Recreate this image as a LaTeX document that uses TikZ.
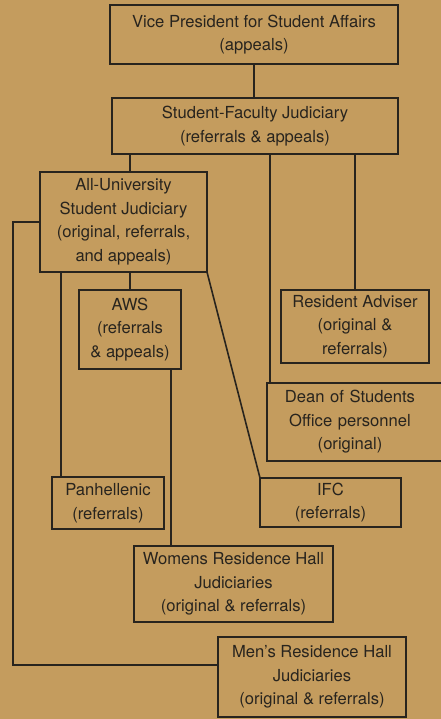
\documentclass[tikz,border=0pt]{standalone}
\usepackage{fontspec}
\setmainfont{TeX Gyre Heros}
\usetikzlibrary{positioning,calc}
\definecolor{paper}{RGB}{196,156,94}
\definecolor{ink}{RGB}{40,36,30}
\tikzstyle{block} = [draw=ink, rectangle, line width=1.6pt, inner sep=0pt, outer sep=0pt,
    align=center, text=ink, font=\fontsize{16.6}{23.5}\selectfont]
\tikzstyle{link} = [draw=ink, line width=1.6pt]

\begin{document}
\begin{tikzpicture}[x=1pt,y=-1pt]
    \fill [paper] (0,0) rectangle (441,719);
    \clip (0,0) rectangle (441,719);
    % We start by placing the blocks
    \node [block, minimum width=288pt, minimum height=59pt] (vp) at (254,34.5) {Vice President for Student Affairs\\(appeals)};
    \node [block, minimum width=286pt, minimum height=56pt] (sfj) at (255,126) {Student-Faculty Judiciary\\(referrals \& appeals)};
    \node [block, minimum width=167pt, minimum height=100pt] (ausj) at (123.5,222) {All-University\\Student Judiciary\\(original, referrals,\\and appeals)};
    \node [block, minimum width=102pt, minimum height=79pt] (aws) at (130,329.5) {AWS\\(referrals\\\& appeals)};
    \node [block, minimum width=148pt, minimum height=73pt] (ra) at (355,326.5) {Resident Adviser\\(original \&\\referrals)};
    % the Dean box runs off the right edge, so its frame is drawn apart
    \node [block, draw=none, text width=166pt, minimum height=78pt] (dean) at (350,422) {Dean of Students\\Office personnel\\(original)};
    \node [block, minimum width=112pt, minimum height=52pt] (panh) at (108,503) {Panhellenic\\(referrals)};
    \node [block, minimum width=141pt, minimum height=49pt] (ifc) at (330.5,502.5) {IFC\\(referrals)};
    \node [block, minimum width=199pt, minimum height=76pt] (wrh) at (233.5,584) {Womens Residence Hall\\Judiciaries\\(original \& referrals)};
    \node [block, minimum width=188pt, minimum height=80pt] (mrh) at (312,677) {Men’s Residence Hall\\Judiciaries\\(original \& referrals)};
    \draw [link] (dean.north west) rectangle ([xshift=40pt]dean.south east);
    % Points where the lines leave or meet a box off its middle
    \coordinate (deanin) at ([xshift=3pt]dean.north west);
    \coordinate (panhin) at ([xshift=9pt]panh.north west);
    \coordinate (awsout) at ([xshift=-10pt]aws.south east);
    \coordinate (corner) at (13,665);
    % Once the nodes are placed, connecting them is easy.
    \draw [link] (vp) -- (vp.south |- sfj.north);
    \draw [link] (sfj.south -| aws.north) -- (ausj.north -| aws.north);
    \draw [link] (sfj.south -| deanin) -- (deanin);
    \draw [link] (sfj.south -| ra.north) -- (ra.north);
    \draw [link] (ausj.south -| aws.north) -- (aws.north);
    \draw [link] (ausj.south -| panhin) -- (panhin);
    \draw [link] (ausj.south east) -- (ifc.north west);
    \draw [link] (awsout) -- (awsout |- wrh.north);
    \draw [link] (ausj.west) -| (corner) -- (corner -| mrh.west);
\end{tikzpicture}
\end{document}
